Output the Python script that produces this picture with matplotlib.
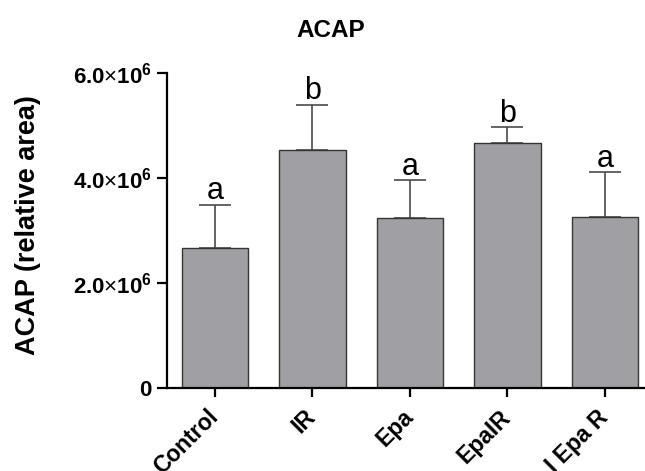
import matplotlib
matplotlib.use("Agg")
import matplotlib.pyplot as plt
import numpy as np

categories = ["Control", "IR", "Epa", "EpaIR", "I Epa R"]
means = [2.67e6, 4.53e6, 3.24e6, 4.67e6, 3.26e6]
sems = [0.82e6, 0.86e6, 0.72e6, 0.30e6, 0.85e6]
letters = ["a", "b", "a", "b", "a"]
yticks = [0, 2e6, 4e6, 6e6]
yticklabels = ["0",
               r"$\mathbf{2.0}{\times}\mathbf{10}^{\mathbf{6}}$",
               r"$\mathbf{4.0}{\times}\mathbf{10}^{\mathbf{6}}$",
               r"$\mathbf{6.0}{\times}\mathbf{10}^{\mathbf{6}}$"]

plt.rcParams['font.family'] = ['Liberation Sans', 'DejaVu Sans']
plt.rcParams['mathtext.fontset'] = 'custom'
plt.rcParams['mathtext.rm'] = 'Liberation Sans'
plt.rcParams['mathtext.bf'] = 'Liberation Sans:bold'
plt.rcParams['mathtext.it'] = 'Liberation Sans:italic'

W, H = 645, 471
fig = plt.figure(figsize=(W/100, H/100), dpi=100)
ax = fig.add_axes([167/W, 83/H, (W-167)/W, (388-73)/H])

x = np.arange(len(categories))
ax.bar(x, means, width=0.68, color="#a0a0a4", edgecolor="#353535", linewidth=1.0, zorder=2)
ax.errorbar(x, means, yerr=[np.zeros(len(sems)), sems], fmt="none",
            ecolor="#4a4a4a", elinewidth=1.2, capsize=11.5, capthick=1.2, zorder=1)
for xi, m, s, l in zip(x, means, sems, letters):
    ax.annotate(l, (xi, m + s), xytext=(0, 4), textcoords="offset points",
                ha="center", va="baseline", fontsize=22, color="black")

ax.set_xlim(-0.49, 4.41)
ax.set_ylim(0, 6e6)
ax.set_yticks(yticks)
ax.set_yticklabels(yticklabels, fontsize=16, fontweight="bold")
ax.set_xticks(x)
ax.set_xticklabels(categories, rotation=45, ha="right", va="center",
                   rotation_mode="anchor", fontsize=16.5, fontweight="bold")
for sp in ["top", "right"]:
    ax.spines[sp].set_visible(False)
for sp in ["left", "bottom"]:
    ax.spines[sp].set_linewidth(1.6)
ax.tick_params(axis="y", direction="out", length=7, width=1.6, pad=4)
ax.tick_params(axis="x", direction="out", length=6.5, width=1.6, pad=12)

fig.text(28/W, 1 - 225/H, "ACAP (relative area)", rotation=90, ha="center", va="center",
         fontsize=19.5, fontweight="bold")
fig.text(331/W, 1 - 37/H, "ACAP", ha="center", va="baseline", fontsize=17.5, fontweight="bold")

fig.savefig("out.png", dpi=100)
